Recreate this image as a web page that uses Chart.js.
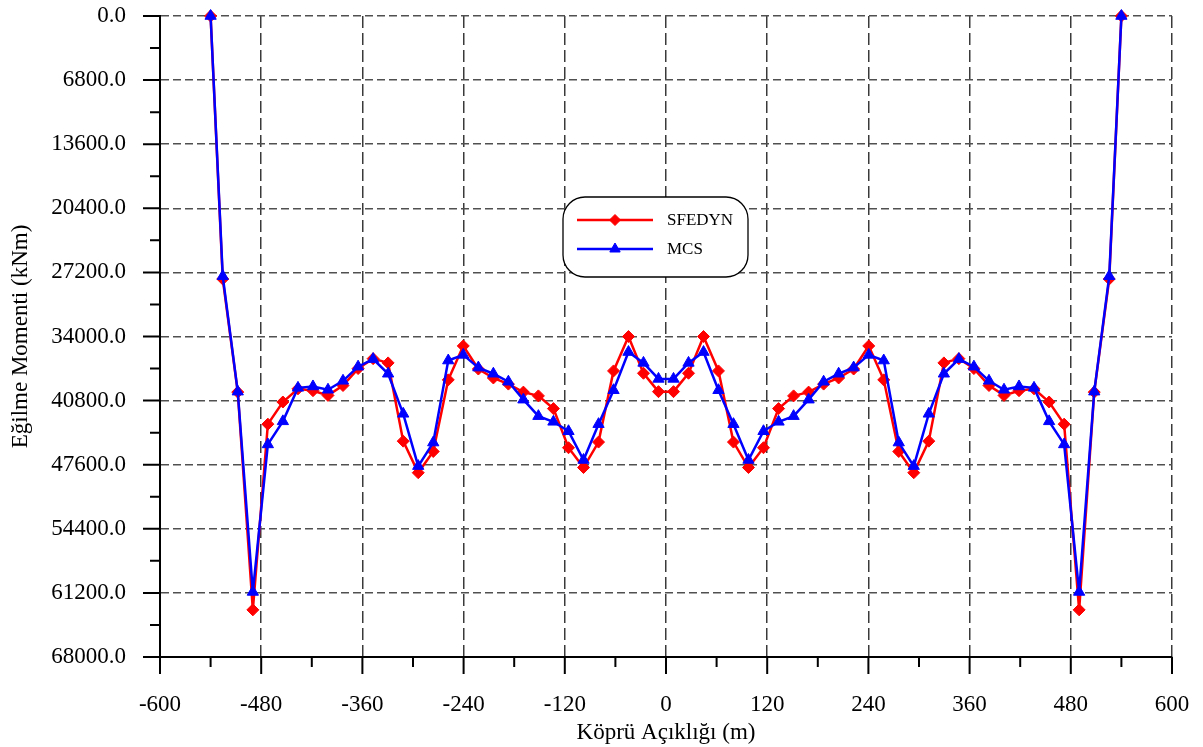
<!DOCTYPE html>
<html>
<head>
<meta charset="utf-8">
<script src="https://cdn.jsdelivr.net/npm/chart.js@4/dist/chart.umd.min.js"></script>
<style>
  body { margin: 0; background: #fff; }
  #kap { width: 1203px; height: 747px; }
</style>
</head>
<body>
<div id="kap"><canvas id="grafico-moment" width="1203" height="747"></canvas></div>
<script>
// Köprü boyunca konumlar (m)
const konumlar = [
  -540, -525.6, -507.8, -489.9, -472.1, -454.3, -436.4, -418.6, -400.8, -383.0, -365.1,
  -347.3, -329.5, -311.6, -293.8, -276.0, -258.2, -240.4, -222.5, -204.7, -186.9,
  -169.1, -151.3, -133.5, -115.6, -97.8, -80.0, -62.2, -44.5, -26.7, -8.9,
  8.9, 26.7, 44.5, 62.2, 80.0, 97.8, 115.6, 133.5, 151.3, 169.1,
  186.9, 204.7, 222.5, 240.4, 258.2, 276.0, 293.8, 311.6, 329.5, 347.3,
  365.1, 383.0, 400.8, 418.6, 436.4, 454.3, 472.1, 489.9, 507.8, 525.6, 540
];
const sfedyn = [
  0, 27900, 39900, 63000, 43300, 40950, 39550, 39750, 40250, 39200, 37400,
  36350, 36800, 45100, 48450, 46200, 38600, 35000, 37450, 38400, 39050,
  39900, 40300, 41650, 45800, 47900, 45200, 37650, 34000, 37900, 39850,
  39850, 37900, 34000, 37650, 45200, 47900, 45800, 41650, 40300, 39900,
  39050, 38400, 37450, 35000, 38600, 46200, 48450, 45100, 36800, 36350,
  37400, 39200, 40250, 39750, 39550, 40950, 43300, 63000, 39900, 27900, 0
];
const mcs = [
  0, 27600, 39850, 61100, 45450, 43000, 39450, 39300, 39650, 38700, 37200,
  36400, 37950, 42200, 47750, 45250, 36550, 35950, 37300, 37950, 38800,
  40700, 42450, 43050, 44050, 47100, 43300, 39700, 35650, 36800, 38500,
  38500, 36800, 35650, 39700, 43300, 47100, 44050, 43050, 42450, 40700,
  38800, 37950, 37300, 35950, 36550, 45250, 47750, 42200, 37950, 36400,
  37200, 38700, 39650, 39300, 39450, 43000, 45450, 61100, 39850, 27600, 0
];
const yTikler = [0, 6800, 13600, 20400, 27200, 34000, 40800, 47600, 54400, 61200, 68000];
const yAraTikler = [3400, 10200, 17000, 23800, 30600, 37400, 44200, 51000, 57800, 64600];
const xTikler = [-600, -480, -360, -240, -120, 0, 120, 240, 360, 480, 600];
const xAraTikler = [-540, -420, -300, -180, -60, 60, 180, 300, 420, 540];

const yazi = "'Liberation Serif', 'Times New Roman', serif";

const tiklerPlugin = {
  id: 'tikler',
  afterDraw(chart) {
    const ctx = chart.ctx;
    const sx = chart.scales.x, sy = chart.scales.y;
    const alan = chart.chartArea;
    ctx.save();
    ctx.strokeStyle = '#000';
    ctx.lineWidth = 2;
    ctx.beginPath();
    yTikler.forEach(function (v) {
      const p = sy.getPixelForValue(v);
      ctx.moveTo(alan.left - 17, p); ctx.lineTo(alan.left, p);
    });
    yAraTikler.forEach(function (v) {
      const p = sy.getPixelForValue(v);
      ctx.moveTo(alan.left - 10, p); ctx.lineTo(alan.left, p);
    });
    xTikler.forEach(function (v) {
      const p = sx.getPixelForValue(v);
      ctx.moveTo(p, alan.bottom); ctx.lineTo(p, alan.bottom + 17);
    });
    xAraTikler.forEach(function (v) {
      const p = sx.getPixelForValue(v);
      ctx.moveTo(p, alan.bottom); ctx.lineTo(p, alan.bottom + 10);
    });
    ctx.stroke();
    ctx.restore();
  }
};

function yuvarlakKutu(ctx, x, y, w, h, r) {
  ctx.beginPath();
  ctx.moveTo(x + r, y);
  ctx.arcTo(x + w, y, x + w, y + h, r);
  ctx.arcTo(x + w, y + h, x, y + h, r);
  ctx.arcTo(x, y + h, x, y, r);
  ctx.arcTo(x, y, x + w, y, r);
  ctx.closePath();
}

const lejantPlugin = {
  id: 'lejant',
  afterDraw(chart) {
    const ctx = chart.ctx;
    ctx.save();
    yuvarlakKutu(ctx, 563, 197, 185, 80, 22);
    ctx.fillStyle = '#fff';
    ctx.fill();
    ctx.lineWidth = 1.3;
    ctx.strokeStyle = '#000';
    ctx.stroke();
    chart.data.datasets.forEach(function (ds, i) {
      const yy = 220 + i * 29;
      ctx.strokeStyle = ds.borderColor;
      ctx.lineWidth = 2.4;
      ctx.beginPath();
      ctx.moveTo(577, yy);
      ctx.lineTo(653, yy);
      ctx.stroke();
      ctx.fillStyle = ds.pointBackgroundColor;
      ctx.strokeStyle = ds.pointBorderColor;
      ctx.lineWidth = ds.pointBorderWidth;
      Chart.helpers.drawPoint(ctx, {
        pointStyle: ds.pointStyle, radius: ds.pointRadius - 0.5,
        borderWidth: ds.pointBorderWidth, rotation: 0
      }, 615, yy);
      ctx.fillStyle = '#000';
      ctx.font = '17px ' + yazi;
      ctx.textAlign = 'left';
      ctx.textBaseline = 'middle';
      ctx.fillText(ds.label, 667, yy + 1);
    });
    ctx.restore();
  }
};

// etiket boşluklarının çizim alanını daraltmasını engelle
function boslukSifirla(s) {
  s.paddingTop = 0; s.paddingBottom = 0; s.paddingLeft = 0; s.paddingRight = 0;
}

new Chart(document.getElementById('grafico-moment'), {
  type: 'line',
  data: {
    datasets: [{
      label: 'SFEDYN',
      data: konumlar.map(function (x, i) { return { x: x, y: sfedyn[i] }; }),
      borderColor: '#ff0000',
      backgroundColor: '#ff0000',
      pointBackgroundColor: '#ff0000',
      pointBorderColor: '#ff0000',
      pointBorderWidth: 1,
      pointStyle: 'rectRot',
      pointRadius: 6,
      borderWidth: 2.5,
      tension: 0,
      clip: false,
      order: 1
    }, {
      label: 'MCS',
      data: konumlar.map(function (x, i) { return { x: x, y: mcs[i] }; }),
      borderColor: '#0000ff',
      backgroundColor: '#0000ff',
      pointBackgroundColor: '#0000ff',
      pointBorderColor: '#0000ff',
      pointBorderWidth: 1,
      pointStyle: 'triangle',
      pointRadius: 6.5,
      borderWidth: 2.5,
      tension: 0,
      clip: false,
      order: 0
    }]
  },
  options: {
    responsive: false,
    animation: false,
    layout: { padding: { left: 0, top: 16, right: 31, bottom: 0 } },
    plugins: {
      legend: { display: false },
      tooltip: { enabled: false }
    },
    scales: {
      x: {
        type: 'linear',
        min: -600,
        max: 600,
        afterBuildTicks: function (s) { s.ticks = xTikler.map(function (v) { return { value: v }; }); },
        afterFit: function (s) { s.height = 90; boslukSifirla(s); },
        ticks: {
          padding: 34,
          maxRotation: 0,
          color: '#000',
          font: { family: yazi, size: 23 },
          callback: function (v) { return String(v); }
        },
        grid: { color: '#3a3a3a', lineWidth: 1.5, drawTicks: false },
        border: { display: true, color: '#000', width: 2, dash: [12, 5] },
        title: {
          display: true,
          text: 'Köprü Açıklığı (m)',
          color: '#000',
          font: { family: yazi, size: 23 },
          padding: { top: 0, bottom: 0 }
        }
      },
      y: {
        type: 'linear',
        min: 0,
        max: 68000,
        reverse: true,
        afterBuildTicks: function (s) { s.ticks = yTikler.map(function (v) { return { value: v }; }); },
        afterFit: function (s) { s.width = 160; boslukSifirla(s); },
        ticks: {
          padding: 34,
          color: '#000',
          font: { family: yazi, size: 23 },
          callback: function (v) { return Number(v).toFixed(1); }
        },
        grid: { color: '#505050', lineWidth: 1.5, drawTicks: false },
        border: { display: true, color: '#000', width: 2, dash: [8, 4] },
        title: {
          display: true,
          text: 'Eğilme Momenti (kNm)',
          color: '#000',
          font: { family: yazi, size: 23 },
          padding: { top: 7, bottom: 0 }
        }
      }
    }
  },
  plugins: [tiklerPlugin, lejantPlugin]
});
</script>
</body>
</html>
